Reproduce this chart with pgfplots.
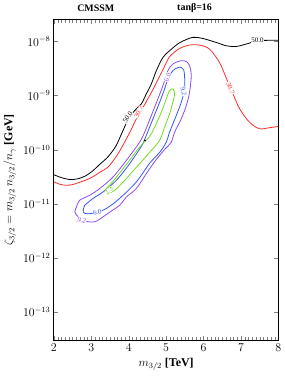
\documentclass[border=0pt]{standalone}
\usepackage{pgfplots}
\pgfplotsset{compat=1.18}
\usepackage{fontspec}
\setmainfont{Liberation Serif}
\definecolor{cblack}{HTML}{000000}
\definecolor{cred}{HTML}{FF2A2A}
\definecolor{cpurple}{HTML}{8A4CF0}
\definecolor{cblue}{HTML}{3355F5}
\definecolor{cgreen}{HTML}{6FE01E}
\definecolor{cgreentxt}{HTML}{5CC012}
\begin{document}
\begin{tikzpicture}
\begin{axis}[
  scale only axis, width=225bp, height=321bp,
  xmin=2, xmax=8, ymode=log, ymin=3.03e-14, ymax=2.51e-8,
  xtick={2,3,4,5,6,7,8},
  minor x tick num=9,
  ytick={1e-13,1e-12,1e-11,1e-10,1e-9,1e-8},
  yminorticks=false,
  tick align=inside,
  axis line style={line width=1pt},
  tick label style={font=\large\bfseries},
  xlabel={$m_{3/2}$ [TeV]},
  ylabel={$\zeta_{3/2} = m_{3/2}\, n_{3/2}/n_{\gamma}$ [GeV]},
  label style={font=\large\bfseries},
]
\addplot[cblack, line width=0.8pt, smooth] coordinates {
(2.000,3.44e-11) (2.213,3.03e-11) (2.427,2.81e-11) (2.640,2.90e-11) (2.853,3.30e-11)
(3.040,4.07e-11) (3.227,5.37e-11) (3.440,7.31e-11) (3.653,1.15e-10) (3.813,2.00e-10)
(3.973,3.47e-10) (4.160,5.30e-10) (4.339,7.05e-10) (4.472,1.08e-9) (4.605,1.64e-9)
(4.739,2.89e-9) (4.915,5.07e-9) (5.093,6.74e-9) (5.360,9.46e-9) (5.707,1.19e-8)
(5.973,1.14e-8) (6.339,9.59e-9) (6.605,8.34e-9) (6.872,8.09e-9) (7.139,8.95e-9)
(7.440,1.03e-8) (7.760,1.05e-8) (8.000,1.05e-8)};
\addplot[cred, line width=0.8pt, smooth] coordinates {
(2.000,2.54e-11) (2.160,2.30e-11) (2.320,2.20e-11) (2.480,2.25e-11) (2.693,2.51e-11)
(2.907,2.84e-11) (3.067,3.23e-11) (3.227,3.83e-11) (3.448,4.79e-11) (3.653,7.23e-11)
(3.813,1.10e-10) (4.027,2.08e-10) (4.160,3.23e-10) (4.293,4.86e-10) (4.427,6.84e-10)
(4.515,8.81e-10) (4.648,1.29e-9) (4.781,1.97e-9) (4.915,3.01e-9) (5.093,5.22e-9)
(5.360,7.43e-9) (5.627,8.59e-9) (5.893,8.59e-9) (6.160,7.24e-9) (6.427,4.10e-9)
(6.613,2.06e-9) (6.773,1.14e-9) (6.960,5.77e-10) (7.227,3.23e-10) (7.493,2.44e-10)
(7.760,2.55e-10) (8.000,2.69e-10)};
\addplot[cpurple, line width=0.8pt, smooth] coordinates {
(2.605,8.79e-12) (2.693,1.17e-11) (2.960,1.44e-11) (3.227,1.92e-11)
(3.581,3.13e-11) (3.939,6.37e-11) (4.293,1.38e-10) (4.427,2.11e-10) (4.605,4.29e-10)
(4.781,8.71e-10) (4.915,1.53e-9) (5.048,2.89e-9) (5.181,3.84e-9) (5.405,4.42e-9)
(5.547,4.23e-9) (5.627,3.57e-9) (5.672,2.34e-9) (5.627,1.15e-9) (5.539,6.55e-10)
(5.405,3.72e-10) (5.227,2.11e-10) (5.139,1.38e-10) (4.987,1.06e-10) (4.720,6.37e-11)
(4.472,3.62e-11) (4.205,1.92e-11) (3.939,1.34e-11) (3.760,9.44e-12) (3.493,7.02e-12)
(3.315,5.75e-12) (3.093,4.66e-12) (2.827,4.80e-12) (2.648,5.75e-12) (2.560,7.11e-12)
(2.605,8.79e-12)};
\addplot[cblue, line width=0.8pt, smooth] coordinates {
(2.827,9.44e-12) (3.048,1.26e-11) (3.315,1.66e-11) (3.672,2.73e-11)
(4.027,5.53e-11) (4.381,1.29e-10) (4.472,1.84e-10) (4.648,3.72e-10) (4.827,7.53e-10)
(4.960,1.33e-9) (5.048,2.03e-9) (5.181,2.89e-9) (5.307,3.28e-9) (5.405,3.32e-9)
(5.467,3.01e-9) (5.493,2.34e-9) (5.493,1.33e-9) (5.405,7.53e-10) (5.272,4.29e-10)
(5.093,2.11e-10) (5.005,1.38e-10) (4.827,8.93e-11) (4.560,5.61e-11) (4.205,2.54e-11)
(3.760,1.26e-11) (3.405,8.22e-12) (3.093,6.73e-12) (2.827,6.64e-12) (2.781,7.64e-12)
(2.827,9.44e-12)};
\addplot[cgreen, line width=0.8pt, smooth] coordinates {
(3.405,1.94e-11) (3.581,2.61e-11) (3.939,5.37e-11) (4.293,1.12e-10)
(4.560,1.76e-10) (4.693,2.61e-10) (4.872,4.93e-10) (5.005,8.71e-10) (5.093,1.24e-9)
(5.181,1.33e-9) (5.227,1.08e-9) (5.181,7.53e-10) (5.093,4.60e-10) (4.960,2.61e-10)
(4.827,1.49e-10) (4.560,8.93e-11) (4.205,4.73e-11) (3.848,2.51e-11) (3.627,1.78e-11)
(3.448,1.55e-11) (3.360,1.66e-11) (3.405,1.94e-11)};
\addplot[only marks, mark=*, mark size=0.7pt, black] coordinates {(4.435,1.48e-10)};
\end{axis}
\begin{scope}[every node/.style={fill=white, font=\scriptsize}]
\node[inner sep=0.4pt, rotate=58, text=cblack] at (74bp,223.5bp) {50.0};
\node[inner sep=0.4pt, rotate=62, text=cred] at (85bp,228.5bp) {30.7};
\node[inner sep=0.6pt, text=cblack] at (204bp,300.5bp) {50.0};
\node[inner sep=0.4pt, rotate=-68, text=cred] at (177bp,252.5bp) {30.7};
\node[inner sep=0.3pt, rotate=-18, text=cpurple] at (28bp,120bp) {9.2};
\node[inner sep=0.3pt, rotate=15, text=cblue] at (43.5bp,128bp) {6.0};
\node[inner sep=0.3pt, rotate=50, text=cgreentxt] at (55bp,149.5bp) {2.3};
\node[inner sep=0.3pt, rotate=68, text=cpurple] at (114bp,263.5bp) {6.0};
\node[inner sep=0.3pt, rotate=-80, text=cblue] at (130bp,249.5bp) {9.2};
\end{scope}
\node[font=\bfseries] at (42bp,333bp) {CMSSM};
\node[font=\bfseries] at (141bp,333bp) {tanβ=16};
\path (-54bp,-42bp) rectangle (230bp,340bp);
\end{tikzpicture}
\end{document}
